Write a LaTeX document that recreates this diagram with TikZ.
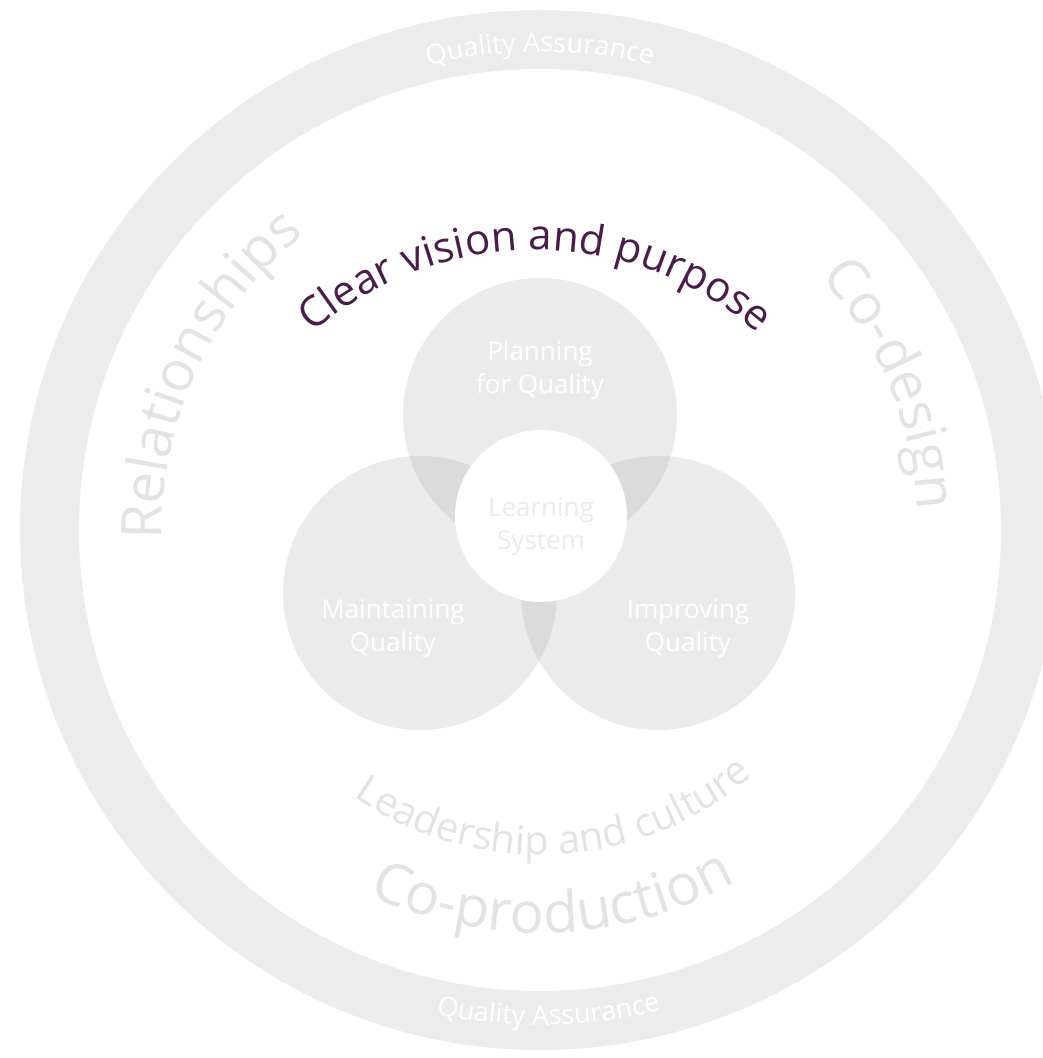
\documentclass[tikz,border=0pt]{standalone}
\usepackage{fontspec}
\setmainfont{Open Sans}
\usetikzlibrary{decorations.text}
\definecolor{ringgrey}{HTML}{ECECEC}
\definecolor{venngrey}{HTML}{EBEBEB}
\definecolor{overlapgrey}{HTML}{DBDBDB}
\definecolor{faintgrey}{HTML}{E3E3E3}
\definecolor{visionpurple}{HTML}{4A1C4A}
\begin{document}
\begin{tikzpicture}[x=1pt,y=1pt,
  vennlabel/.style={text=white, font=\fontsize{26}{33}\selectfont, align=center, inner sep=0pt},
  arctext/.style={decorate, decoration={text along path, text align=center, text={#1}}}]
\useasboundingbox (0,0) rectangle (1043,1058);
\coordinate (O) at (540,528);
\coordinate (T) at (540,643);
\coordinate (BL) at (420,465);
\coordinate (BR) at (658,465);
\coordinate (LS) at (541,542);
% outer ring
\begin{scope}
  \clip (0,0) rectangle (1043,1058);
  \fill[ringgrey, even odd rule] (O) circle (520pt) (O) circle (461pt);
\end{scope}
% venn circles
\fill[venngrey] (T) circle (137pt);
\fill[venngrey] (BL) circle (137pt);
\fill[venngrey] (BR) circle (137pt);
\begin{scope}
  \clip (T) circle (137pt);
  \fill[overlapgrey] (BL) circle (137pt);
  \fill[overlapgrey] (BR) circle (137pt);
\end{scope}
\begin{scope}
  \clip (BL) circle (137pt);
  \fill[overlapgrey] (BR) circle (137pt);
\end{scope}
\fill[white] (LS) circle (86pt);
% venn labels
\node[vennlabel] (plan) at (540,688) {Planning\\for Quality};
\node[vennlabel, text=venngrey] (learn) at (541,531) {Learning\\System};
\node[vennlabel] (maint) at (393,429) {Maintaining\\Quality};
\node[vennlabel] (improve) at (688,429) {Improving\\Quality};
% ring texts
\path[shift={(O)}, arctext={|\fontsize{27}{27}\selectfont\color{white}|Quality Assurance}]
  (140:478pt) arc[start angle=140, end angle=40, radius=478pt];
\path[shift={(O)}, arctext={|\fontsize{27}{27}\selectfont\color{white}|Quality Assurance}]
  (226:495pt) arc[start angle=226, end angle=316, radius=495pt];
% inner curved texts
\path[shift={(O)}, arctext={|\fontsize{56}{56}\selectfont\color{faintgrey}|Relationships}]
  (205:378pt) arc[start angle=205, end angle=105, radius=378pt];
\path[shift={(O)}, arctext={|\fontsize{56}{56}\selectfont\color{faintgrey}|Co-design}]
  (70:378pt) arc[start angle=70, end angle=-25, radius=378pt];
\path[shift={(O)}, arctext={|\fontsize{57}{57}\selectfont\color{faintgrey}|Co-production}]
  (222:403pt) arc[start angle=222, end angle=322, radius=403pt];
\path[shift={(O)}, arctext={|\fontsize{40}{40}\selectfont\color{faintgrey}|Leadership and culture}]
  (213:325pt) arc[start angle=213, end angle=333, radius=325pt];
\path[shift={(535,468)}, arctext={|\fontsize{42}{42}\selectfont\color{visionpurple}|Clear vision and purpose}]
  (160:340pt) arc[start angle=160, end angle=20, radius=340pt];
\end{tikzpicture}
\end{document}
